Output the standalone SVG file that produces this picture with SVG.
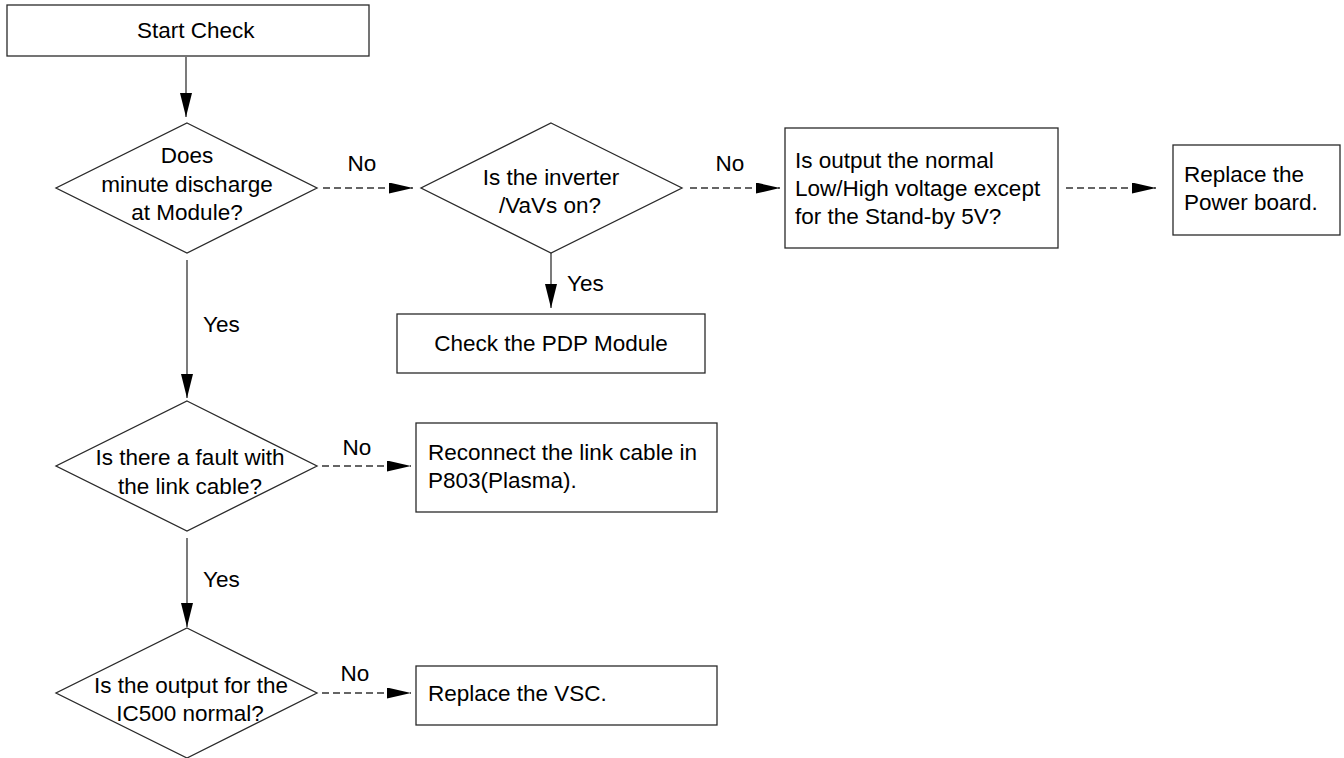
<svg xmlns="http://www.w3.org/2000/svg" width="1344" height="758" viewBox="0 0 1344 758">
<style>
.shape{fill:#fff;stroke:#2a2a2a;stroke-width:1.3}
.t{font-family:"Liberation Sans",Arial,Helvetica,sans-serif;font-size:22.5px;fill:#000}
.c{text-anchor:middle}
.ln{fill:none;stroke:#333;stroke-width:1.3}
.dash{stroke-dasharray:7 4}
</style>
<defs>
<marker id="arr" markerUnits="userSpaceOnUse" markerWidth="24" markerHeight="12" refX="24" refY="6" orient="auto">
<path d="M0,0 L24,6 L0,12 z" fill="#000"/>
</marker>
<marker id="arrd" markerUnits="userSpaceOnUse" markerWidth="24" markerHeight="11" refX="24" refY="5.5" orient="auto">
<path d="M0,0 L24,5.5 L0,11 z" fill="#000"/>
</marker>
</defs>
<rect width="1344" height="758" fill="#fff"/>
<g id="connectors">
<path class="ln" d="M186,57 L186,117" marker-end="url(#arr)"/>
<path class="ln dash" d="M323,188 L413,188" marker-end="url(#arrd)"/>
<text class="t c" x="362" y="171">No</text>
<path class="ln dash" d="M690,188 L780,188" marker-end="url(#arrd)"/>
<text class="t c" x="730" y="171">No</text>
<path class="ln dash" d="M1066,188 L1156,188" marker-end="url(#arrd)"/>
<path class="ln" d="M551,253 L551,308" marker-end="url(#arr)"/>
<text class="t" x="567" y="291">Yes</text>
<path class="ln" d="M187,260 L187,398" marker-end="url(#arr)"/>
<text class="t" x="203" y="332">Yes</text>
<path class="ln dash" d="M322,466 L411,466" marker-end="url(#arrd)"/>
<text class="t c" x="357" y="455">No</text>
<path class="ln" d="M187,538 L187,627" marker-end="url(#arr)"/>
<text class="t" x="203" y="587">Yes</text>
<path class="ln dash" d="M322,693 L411,693" marker-end="url(#arrd)"/>
<text class="t c" x="355" y="681">No</text>
</g>
<g id="start">
<rect class="shape" x="7" y="5" width="362" height="51"/>
<text class="t" x="137" y="38">Start Check</text>
</g>
<g id="q-discharge">
<polygon class="shape" points="187,123 317,188 187,253 56,188"/>
<text class="t c" x="187" y="163">Does</text>
<text class="t c" x="187" y="192">minute discharge</text>
<text class="t c" x="187" y="220">at Module?</text>
</g>
<g id="q-inverter">
<polygon class="shape" points="551,123 682,188 551,253 421,188"/>
<text class="t c" x="551" y="185">Is the inverter</text>
<text class="t c" x="550" y="213">/VaVs on?</text>
</g>
<g id="q-output">
<rect class="shape" x="785" y="128" width="273" height="120"/>
<text class="t" x="795" y="168">Is output the normal</text>
<text class="t" x="795" y="196">Low/High voltage except</text>
<text class="t" x="795" y="224">for the Stand-by 5V?</text>
</g>
<g id="replace-power">
<rect class="shape" x="1173" y="145" width="167" height="90"/>
<text class="t" x="1184" y="182">Replace the</text>
<text class="t" x="1184" y="210">Power board.</text>
</g>
<g id="check-pdp">
<rect class="shape" x="397" y="314" width="308" height="59"/>
<text class="t c" x="551" y="351">Check the PDP Module</text>
</g>
<g id="q-link">
<polygon class="shape" points="187,401 317,466 187,531 56,466"/>
<text class="t c" x="190" y="465">Is there a fault with</text>
<text class="t c" x="190" y="494">the link cable?</text>
</g>
<g id="reconnect">
<rect class="shape" x="416" y="423" width="301" height="89"/>
<text class="t" x="428" y="460">Reconnect the link cable in</text>
<text class="t" x="428" y="488">P803(Plasma).</text>
</g>
<g id="q-ic500">
<polygon class="shape" points="187,628 317,693 187,758 56,693"/>
<text class="t c" x="191" y="693">Is the output for the</text>
<text class="t c" x="190" y="721">IC500 normal?</text>
</g>
<g id="replace-vsc">
<rect class="shape" x="416" y="666" width="301" height="59"/>
<text class="t" x="428" y="701">Replace the VSC.</text>
</g>
</svg>
